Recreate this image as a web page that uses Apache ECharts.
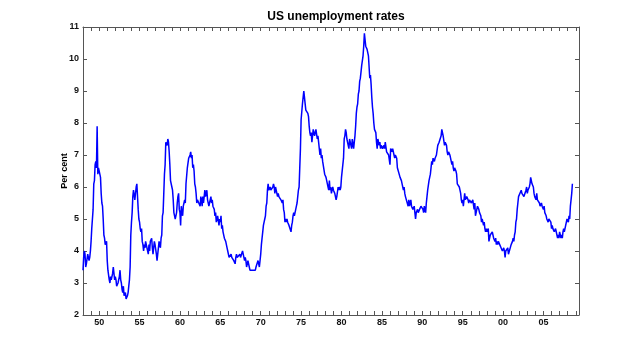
<!DOCTYPE html>
<html>
<head>
<meta charset="utf-8">
<title>US unemployment rates</title>
<script src="https://cdn.jsdelivr.net/npm/echarts@6/dist/echarts.min.js"></script>
<style>
  html, body { margin: 0; padding: 0; background: #fff; }
  #chart { width: 640px; height: 354px; }
</style>
</head>
<body>
<div id="chart"></div>
<script>
// monthly rates, Jan 1948 onwards
const startYear = 1948;
const rates1940s = [
  3.4, 3.8, 4.0, 3.9, 3.5, 3.6, 3.6, 3.9, 3.8, 3.7, 3.8, 4.0,
  4.3, 4.7, 5.0, 5.3, 6.1, 6.2, 6.7, 6.8, 6.6, 7.9, 6.4, 6.6,
];
const rates1950s = [
  6.5, 6.4, 6.3, 5.8, 5.5, 5.4, 5.0, 4.5, 4.4, 4.2, 4.2, 4.3,
  3.7, 3.4, 3.4, 3.1, 3.0, 3.2, 3.1, 3.1, 3.3, 3.5, 3.5, 3.1,
  3.2, 3.1, 2.9, 2.9, 3.0, 3.0, 3.2, 3.4, 3.1, 3.0, 2.8, 2.7,
  2.9, 2.6, 2.6, 2.7, 2.5, 2.5, 2.6, 2.7, 2.9, 3.1, 3.5, 4.5,
  4.9, 5.2, 5.7, 5.9, 5.9, 5.6, 5.8, 6.0, 6.1, 5.7, 5.3, 5.0,
  4.9, 4.7, 4.6, 4.7, 4.3, 4.2, 4.0, 4.2, 4.1, 4.3, 4.2, 4.2,
  4.0, 3.9, 4.2, 4.0, 4.3, 4.3, 4.4, 4.1, 3.9, 3.9, 4.3, 4.2,
  4.2, 3.9, 3.7, 3.9, 4.1, 4.3, 4.2, 4.1, 4.4, 4.5, 5.1, 5.2,
  5.8, 6.4, 6.7, 7.4, 7.4, 7.3, 7.5, 7.4, 7.1, 6.7, 6.2, 6.2,
  6.0, 5.9, 5.6, 5.2, 5.1, 5.0, 5.1, 5.2, 5.5, 5.7, 5.8, 5.3,
];
const rates1960s = [
  5.2, 4.8, 5.4, 5.2, 5.1, 5.4, 5.5, 5.6, 5.5, 6.1, 6.1, 6.6,
  6.6, 6.9, 6.9, 7.0, 7.1, 6.9, 7.0, 6.6, 6.7, 6.5, 6.1, 6.0,
  5.8, 5.5, 5.6, 5.6, 5.5, 5.5, 5.4, 5.7, 5.6, 5.4, 5.7, 5.5,
  5.7, 5.9, 5.7, 5.7, 5.9, 5.6, 5.6, 5.4, 5.5, 5.5, 5.7, 5.5,
  5.6, 5.4, 5.4, 5.3, 5.1, 5.2, 4.9, 5.0, 5.1, 5.1, 4.8, 5.0,
  4.9, 5.1, 4.7, 4.8, 4.6, 4.6, 4.4, 4.4, 4.3, 4.2, 4.1, 4.0,
  4.0, 3.8, 3.8, 3.8, 3.9, 3.8, 3.8, 3.8, 3.7, 3.7, 3.6, 3.8,
  3.9, 3.8, 3.8, 3.8, 3.8, 3.9, 3.8, 3.8, 3.8, 4.0, 3.9, 3.8,
  3.7, 3.8, 3.7, 3.5, 3.5, 3.7, 3.7, 3.5, 3.4, 3.4, 3.4, 3.4,
  3.4, 3.4, 3.4, 3.4, 3.4, 3.5, 3.5, 3.5, 3.7, 3.7, 3.5, 3.5,
];
const rates1970s = [
  3.9, 4.2, 4.4, 4.6, 4.8, 4.9, 5.0, 5.1, 5.4, 5.5, 5.9, 6.1,
  5.9, 5.9, 6.0, 5.9, 5.9, 5.9, 6.0, 6.1, 6.0, 5.8, 6.0, 6.0,
  5.8, 5.7, 5.8, 5.7, 5.7, 5.7, 5.6, 5.6, 5.5, 5.6, 5.3, 5.2,
  4.9, 5.0, 4.9, 5.0, 4.9, 4.9, 4.8, 4.8, 4.8, 4.6, 4.8, 4.9,
  5.1, 5.2, 5.1, 5.1, 5.1, 5.4, 5.5, 5.5, 5.9, 6.0, 6.6, 7.2,
  8.1, 8.1, 8.6, 8.8, 9.0, 8.8, 8.6, 8.4, 8.4, 8.4, 8.3, 8.2,
  7.9, 7.7, 7.6, 7.7, 7.4, 7.6, 7.8, 7.8, 7.6, 7.7, 7.8, 7.8,
  7.5, 7.6, 7.4, 7.2, 7.0, 7.2, 6.9, 7.0, 6.8, 6.8, 6.8, 6.4,
  6.4, 6.3, 6.3, 6.1, 6.0, 5.9, 6.2, 5.9, 6.0, 5.8, 5.9, 6.0,
  5.9, 5.9, 5.8, 5.8, 5.6, 5.7, 5.7, 6.0, 5.9, 6.0, 5.9, 6.0,
];
const rates1980s = [
  6.3, 6.3, 6.3, 6.9, 7.5, 7.6, 7.8, 7.7, 7.5, 7.5, 7.5, 7.2,
  7.5, 7.4, 7.4, 7.2, 7.5, 7.5, 7.2, 7.4, 7.6, 7.9, 8.3, 8.5,
  8.6, 8.9, 9.0, 9.3, 9.4, 9.6, 9.8, 9.8, 10.1, 10.4, 10.8, 10.8,
  10.4, 10.4, 10.3, 10.2, 10.1, 10.1, 9.4, 9.5, 9.2, 8.8, 8.5, 8.3,
  8.0, 7.8, 7.8, 7.7, 7.4, 7.2, 7.5, 7.5, 7.3, 7.4, 7.2, 7.3,
  7.3, 7.2, 7.2, 7.3, 7.2, 7.4, 7.4, 7.1, 7.1, 7.1, 7.0, 7.0,
  6.7, 7.2, 7.2, 7.1, 7.2, 7.2, 7.0, 6.9, 7.0, 7.0, 6.9, 6.6,
  6.6, 6.6, 6.6, 6.3, 6.3, 6.2, 6.1, 6.0, 5.9, 6.0, 5.8, 5.7,
  5.7, 5.7, 5.7, 5.4, 5.6, 5.4, 5.4, 5.6, 5.4, 5.4, 5.3, 5.3,
  5.4, 5.2, 5.0, 5.2, 5.2, 5.3, 5.2, 5.2, 5.3, 5.3, 5.4, 5.4,
];
const rates1990s = [
  5.4, 5.3, 5.2, 5.4, 5.4, 5.2, 5.5, 5.7, 5.9, 5.9, 6.2, 6.3,
  6.4, 6.6, 6.8, 6.7, 6.9, 6.9, 6.8, 6.9, 6.9, 7.0, 7.0, 7.3,
  7.3, 7.4, 7.4, 7.4, 7.6, 7.8, 7.7, 7.6, 7.6, 7.3, 7.4, 7.4,
  7.3, 7.1, 7.0, 7.1, 7.1, 7.0, 6.9, 6.8, 6.7, 6.8, 6.6, 6.5,
  6.6, 6.6, 6.5, 6.4, 6.1, 6.1, 6.1, 6.0, 5.9, 5.8, 5.6, 5.5,
  5.6, 5.4, 5.4, 5.8, 5.6, 5.6, 5.7, 5.7, 5.6, 5.5, 5.6, 5.6,
  5.6, 5.5, 5.5, 5.6, 5.6, 5.3, 5.5, 5.1, 5.2, 5.2, 5.4, 5.4,
  5.3, 5.2, 5.2, 5.1, 4.9, 5.0, 4.9, 4.8, 4.9, 4.7, 4.6, 4.7,
  4.6, 4.6, 4.7, 4.3, 4.4, 4.5, 4.5, 4.5, 4.6, 4.5, 4.4, 4.4,
  4.3, 4.4, 4.2, 4.3, 4.2, 4.3, 4.3, 4.2, 4.2, 4.1, 4.1, 4.0,
];
const rates2000s = [
  4.0, 4.1, 4.0, 3.8, 4.0, 4.0, 4.0, 4.1, 3.9, 3.9, 3.9, 3.9,
  4.2, 4.2, 4.3, 4.4, 4.3, 4.5, 4.6, 4.9, 5.0, 5.3, 5.5, 5.7,
  5.7, 5.7, 5.7, 5.9, 5.8, 5.8, 5.8, 5.7, 5.7, 5.7, 5.9, 6.0,
  5.8, 5.9, 5.9, 6.0, 6.1, 6.3, 6.2, 6.1, 6.1, 6.0, 5.8, 5.7,
  5.7, 5.6, 5.8, 5.6, 5.6, 5.6, 5.5, 5.4, 5.4, 5.5, 5.4, 5.4,
  5.3, 5.4, 5.2, 5.2, 5.1, 5.0, 5.0, 4.9, 5.0, 5.0, 5.0, 4.9,
  4.7, 4.8, 4.7, 4.7, 4.6, 4.6, 4.7, 4.7, 4.5, 4.4, 4.5, 4.4,
  4.6, 4.5, 4.4, 4.5, 4.4, 4.6, 4.7, 4.6, 4.7, 4.7, 4.7, 5.0,
  5.0, 4.9, 5.1, 5.0, 5.4, 5.6, 5.8, 6.1,
];
const labelYears = [1950, 1955, 1960, 1965, 1970, 1975, 1980, 1985, 1990, 1995, 2000, 2005];

const rates = [].concat(rates1940s, rates1950s, rates1960s, rates1970s, rates1980s, rates1990s, rates2000s);
const points = rates.map((r, i) => [startYear + i / 12, r]);

const axisColor = "#555";
const labelFont = { fontFamily: "Liberation Sans, Arial, sans-serif", fontSize: 9, fontWeight: "bold", color: "#111" };

const chart = echarts.init(document.getElementById("chart"), null, { renderer: "canvas" });

const xBase = {
  type: "value",
  min: 1948,
  max: 2009.4,
  interval: 1,
  splitLine: { show: false },
  axisLine: { show: true, onZero: false, lineStyle: { color: axisColor, width: 1 } },
  axisTick: { show: true, inside: true, length: 4, lineStyle: { color: axisColor } },
};
const yBase = {
  type: "value",
  min: 2,
  max: 11,
  interval: 1,
  splitLine: { show: false },
  axisLine: { show: true, onZero: false, lineStyle: { color: axisColor, width: 1 } },
  axisTick: { show: true, inside: true, length: 4, lineStyle: { color: axisColor } },
};

const option = {
  animation: false,
  backgroundColor: "#fff",
  title: {
    text: "US unemployment rates",
    left: 331,
    top: 6,
    textAlign: "center",
    textStyle: { fontFamily: "Liberation Sans, Arial, sans-serif", fontSize: 12, fontWeight: "bold", color: "#000" },
  },
  grid: { left: 83, right: 61, top: 27, bottom: 39, outerBoundsMode: "none" },
  xAxis: [
    Object.assign({}, xBase, {
      position: "bottom",
      axisLabel: Object.assign({}, labelFont, {
        margin: 3,
        formatter: (v) => (labelYears.includes(v) ? String(v % 100).padStart(2, "0") : ""),
      }),
    }),
    Object.assign({}, xBase, { position: "top", axisLabel: { show: false } }),
  ],
  yAxis: [
    Object.assign({}, yBase, {
      position: "left",
      name: "Per cent",
      nameLocation: "middle",
      nameGap: 14,
      nameMoveOverlap: false,
      nameTextStyle: { fontFamily: "Liberation Sans, Arial, sans-serif", fontSize: 9, fontWeight: "bold", color: "#000" },
      axisLabel: Object.assign({}, labelFont, { margin: 4 }),
    }),
    Object.assign({}, yBase, { position: "right", axisLabel: { show: false } }),
  ],
  series: [
    {
      name: "Unemployment rate",
      type: "line",
      xAxisIndex: 0,
      yAxisIndex: 0,
      data: points,
      showSymbol: false,
      lineStyle: { color: "#0000ff", width: 1.5 },
    },
  ],
};

chart.setOption(option);
</script>
</body>
</html>
